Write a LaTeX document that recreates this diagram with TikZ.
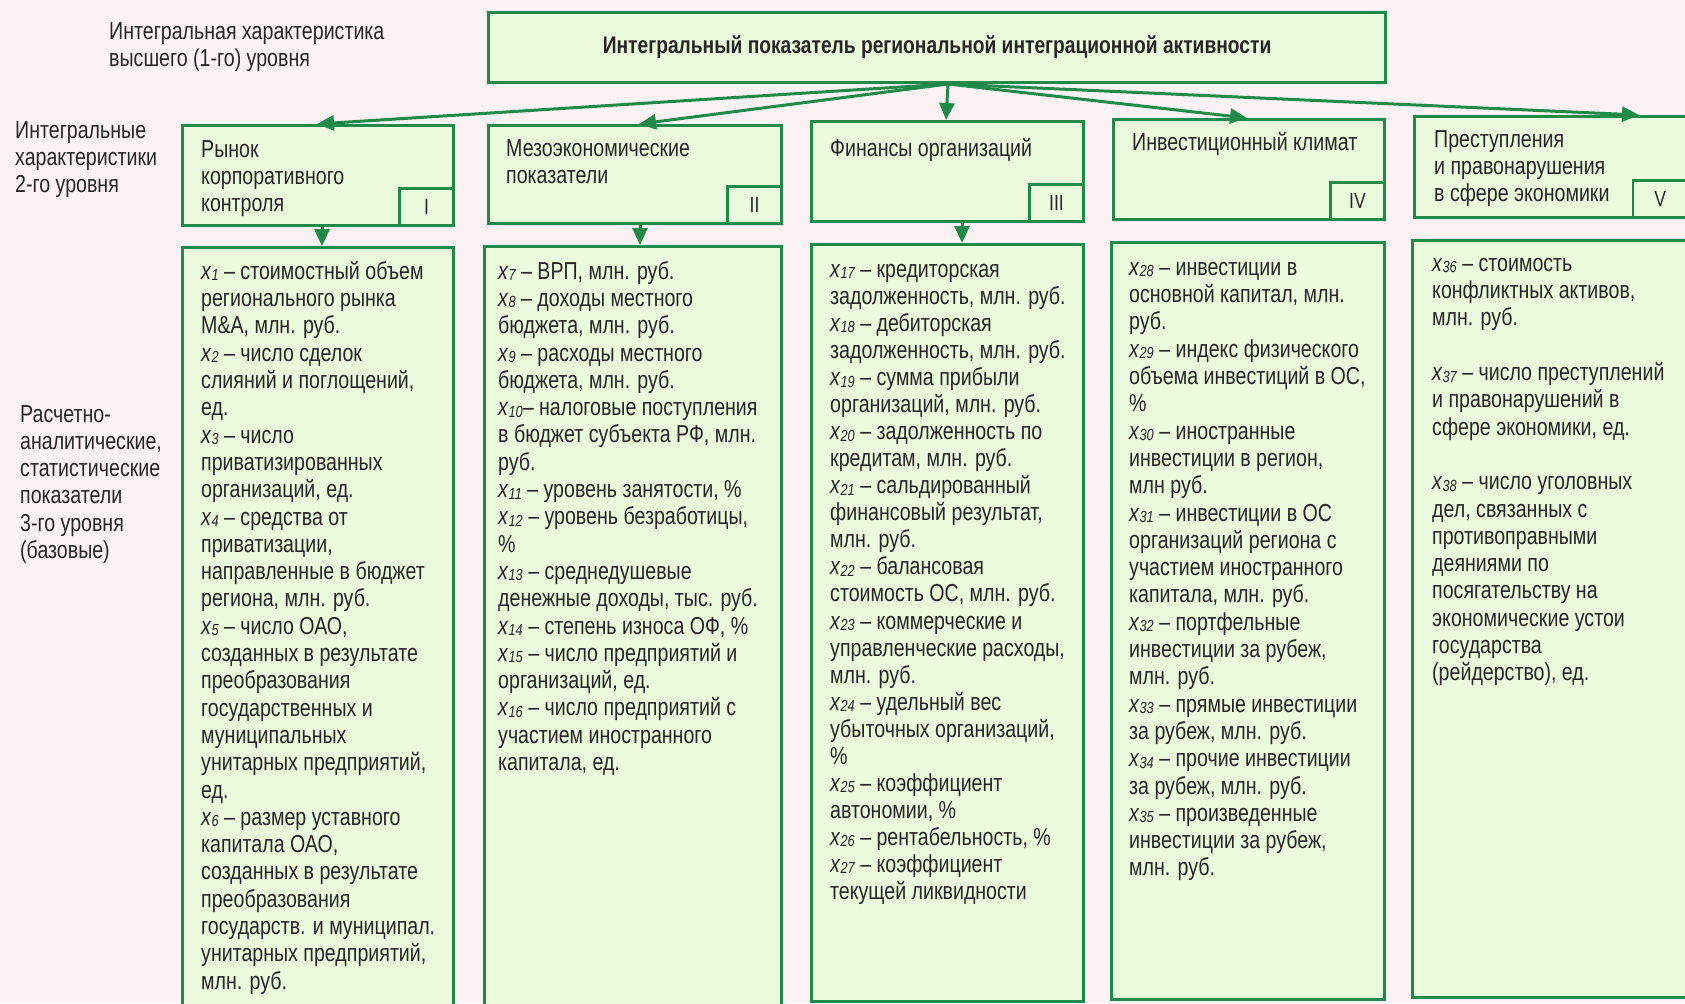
\documentclass[tikz,border=0pt]{standalone}
\usepackage{fontspec}
\setmainfont[FakeStretch=0.80]{Liberation Sans}
\usetikzlibrary{arrows.meta,calc}
\definecolor{bgc}{RGB}{252,242,243}
\definecolor{boxfill}{RGB}{235,249,221}
\definecolor{gline}{RGB}{32,138,74}
\definecolor{txtc}{RGB}{38,38,38}
\newcommand\xv[1]{\textit{x}{\fontsize{16}{16}\selectfont\itshape\raisebox{-1.5pt}{#1}}}
\begin{document}
\begin{tikzpicture}[x=1pt,y=-1pt,
  box/.style={draw=gline, line width=2.6pt, fill=boxfill, inner sep=0pt, anchor=north west},
  num/.style={draw=gline, line width=2.2pt, fill=boxfill, inner sep=0pt, anchor=south east,
    minimum width=54pt, minimum height=37pt, text=txtc, font=\fontsize{22}{22}\selectfont},
  txt/.style={inner sep=0pt, anchor=north west, align=left, text=txtc, font=\fontsize{24.5}{27.3}\selectfont},
  arr/.style={draw=gline, line width=3pt, -{Triangle[length=17pt,width=15pt]}},
]
\useasboundingbox (0,0) rectangle (1685,1003);
\fill[bgc] (0,0) rectangle (1685,1003);

% left labels
\node[txt] (l1) at (109,22) {Интегральная характеристика\\высшего (1-го) уровня};
\node[txt] (l2) at (15,121) {Интегральные\\характеристики\\2-го уровня};
\node[txt] (l3) at (20,405) {Расчетно-\\аналитические,\\статистические\\показатели\\3-го уровня\\(базовые)};

% top box
\node[box, line width=3pt, minimum width=897pt, minimum height=70pt, text=txtc,
  font=\fontsize{24}{27}\selectfont\bfseries] (top) at (487,11)
  {Интегральный показатель региональной интеграционной активности};

% level 2 boxes
\node[box, minimum width=271pt, minimum height=100pt] (c1) at (181,124) {};
\node[box, minimum width=293pt, minimum height=98pt] (c2) at (487,124) {};
\node[box, minimum width=272pt, minimum height=100pt] (c3) at (810,120) {};
\node[box, minimum width=271pt, minimum height=100pt] (c4) at (1112,118) {};
\node[box, minimum width=290pt, minimum height=101pt] (c5) at (1413,115) {};

\node[num] (n1) at (c1.south east) {I};
\node[num] (n2) at (c2.south east) {II};
\node[num] (n3) at (c3.south east) {III};
\node[num] (n4) at (c4.south east) {IV};
\node[num, anchor=south west] (n5) at ($(c5.south west)+(219,0)$) {V};

\node[txt] (c1t) at ($(c1.north west)+(20,16)$) {Рынок\\корпоративного\\контроля};
\node[txt] (c2t) at ($(c2.north west)+(19,15)$) {Мезоэкономические\\показатели};
\node[txt] (c3t) at ($(c3.north west)+(20,18)$) {Финансы организаций};
\node[txt] (c4t) at ($(c4.north west)+(20,14)$) {Инвестиционный климат};
\node[txt] (c5t) at ($(c5.north west)+(21,15)$) {Преступления\\и правонарушения\\в сфере экономики};

% level 3 boxes
\node[box, minimum width=271pt, minimum height=760pt] (d1) at (181,246) {};
\node[box, minimum width=297pt, minimum height=760pt] (d2) at (483,245) {};
\node[box, minimum width=272pt, minimum height=757pt] (d3) at (810,243) {};
\node[box, minimum width=273pt, minimum height=757pt] (d4) at (1110,241) {};
\node[box, minimum width=290pt, minimum height=757pt] (d5) at (1411,239) {};

\node[txt] (d1t) at ($(d1.north west)+(20,15)$) {%
\xv{1} – стоимостный объем\\регионального рынка\\М\&А, млн. руб.\\
\xv{2} – число сделок\\слияний и поглощений,\\ед.\\
\xv{3} – число\\приватизированных\\организаций, ед.\\
\xv{4} – средства от\\приватизации,\\направленные в бюджет\\региона, млн. руб.\\
\xv{5} – число ОАО,\\созданных в результате\\преобразования\\государственных и\\муниципальных\\унитарных предприятий,\\ед.\\
\xv{6} – размер уставного\\капитала ОАО,\\созданных в результате\\преобразования\\государств. и муниципал.\\унитарных предприятий,\\млн. руб.};

\node[txt] (d2t) at ($(d2.north west)+(15,16)$) {%
\xv{7} – ВРП, млн. руб.\\
\xv{8} – доходы местного\\бюджета, млн. руб.\\
\xv{9} – расходы местного\\бюджета, млн. руб.\\
\xv{10}– налоговые поступления\\в бюджет субъекта РФ, млн.\\руб.\\
\xv{11} – уровень занятости, \%\\
\xv{12} – уровень безработицы,\\\%\\
\xv{13} – среднедушевые\\денежные доходы, тыс. руб.\\
\xv{14} – степень износа ОФ, \%\\
\xv{15} – число предприятий и\\организаций, ед.\\
\xv{16} – число предприятий с\\участием иностранного\\капитала, ед.};

\node[txt, font=\fontsize{24.5}{27.05}\selectfont] (d3t) at ($(d3.north west)+(20,21)$) {%
\xv{17} – кредиторская\\задолженность, млн. руб.\\
\xv{18} – дебиторская\\задолженность, млн. руб.\\
\xv{19} – сумма прибыли\\организаций, млн. руб.\\
\xv{20} – задолженность по\\кредитам, млн. руб.\\
\xv{21} – сальдированный\\финансовый результат,\\млн. руб.\\
\xv{22} – балансовая\\стоимость ОС, млн. руб.\\
\xv{23} – коммерческие и\\управленческие расходы,\\млн. руб.\\
\xv{24} – удельный вес\\убыточных организаций,\\\%\\
\xv{25} – коэффициент\\автономии, \%\\
\xv{26} – рентабельность, \%\\
\xv{27} – коэффициент\\текущей ликвидности};

\node[txt] (d4t) at ($(d4.north west)+(19,21)$) {%
\xv{28} – инвестиции в\\основной капитал, млн.\\руб.\\
\xv{29} – индекс физического\\объема инвестиций в ОС,\\\%\\
\xv{30} – иностранные\\инвестиции в регион,\\млн руб.\\
\xv{31} – инвестиции в ОС\\организаций региона с\\участием иностранного\\капитала, млн. руб.\\
\xv{32} – портфельные\\инвестиции за рубеж,\\млн. руб.\\
\xv{33} – прямые инвестиции\\за рубеж, млн. руб.\\
\xv{34} – прочие инвестиции\\за рубеж, млн. руб.\\
\xv{35} – произведенные\\инвестиции за рубеж,\\млн. руб.};

\node[txt] (d5t) at ($(d5.north west)+(21,19)$) {%
\xv{36} – стоимость\\конфликтных активов,\\млн. руб.\\[27.3pt]
\xv{37} – число преступлений\\и правонарушений в\\сфере экономики, ед.\\[27.3pt]
\xv{38} – число уголовных\\дел, связанных с\\противоправными\\деяниями по\\посягательству на\\экономические устои\\государства\\(рейдерство), ед.};

% connectors
\coordinate (o) at ($(top.south)+(11,0)$);
\draw[arr] (o) -- ($(c1.north west)+(136,0)$);
\draw[arr] (o) -- ($(c2.north west)+(152,0)$);
\draw[arr] (o) -- ($(c3.north west)+(136,0)$);
\draw[arr] (o) -- ($(c4.north west)+(135,0)$);
\draw[arr] (o) -- ($(c5.north west)+(226,0)$);

\draw[arr] ($(c1.south west)+(141,0)$) -- ($(d1.north west)+(141,0)$);
\draw[arr] ($(c2.south west)+(153,0)$) -- ($(d2.north west)+(157,0)$);
\draw[arr] ($(c3.south west)+(152,0)$) -- ($(d3.north west)+(152,0)$);
\end{tikzpicture}
\end{document}
